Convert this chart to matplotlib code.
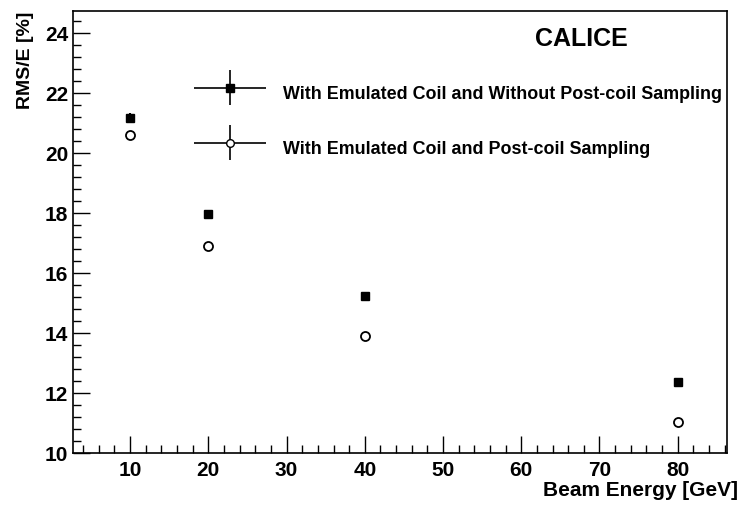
import numpy as np
import matplotlib.pyplot as plt
from matplotlib.legend_handler import HandlerErrorbar
from matplotlib.ticker import MultipleLocator

plt.rcParams['font.family'] = ['Liberation Sans', 'DejaVu Sans']
plt.rcParams['font.weight'] = 'bold'

# beam energies and resolution values
energy = [10, 20, 40, 80]
rms_no_post = [21.17, 17.97, 15.22, 12.38]
err_no_post = [0.15, 0.05, 0.05, 0.13]
rms_post = [20.58, 16.90, 13.88, 11.03]
err_post = [0.12, 0.05, 0.04, 0.05]

label_no_post = 'With Emulated Coil and Without Post-coil Sampling'
label_post = 'With Emulated Coil and Post-coil Sampling'

fig = plt.figure(figsize=(7.41, 5.06), dpi=100)
ax = fig.add_axes([73/741, 52/506, 654/741, 442/506])

ax.errorbar(energy, rms_no_post, yerr=err_no_post, fmt='s', color='black',
            ms=6, elinewidth=1.5, capsize=0)
ax.errorbar(energy, rms_post, yerr=err_post, fmt='o', color='black',
            mfc='white', mew=1.3, ms=6.5, elinewidth=1.5, capsize=0)

# legend proxies (ROOT style with x and y bars)
h1 = ax.errorbar([np.nan], [np.nan], xerr=1, yerr=1, fmt='s', color='black',
                 ms=6, elinewidth=1.2)
h2 = ax.errorbar([np.nan], [np.nan], xerr=1, yerr=1, fmt='o', color='black',
                 mfc='white', mew=1.0, ms=5.5, elinewidth=1.2)

fs_leg = 12.9
leg = ax.legend([h1, h2], [label_no_post, label_post], frameon=False,
                loc='upper left', bbox_to_anchor=(187/741, 1 - 72/506),
                bbox_transform=fig.transFigure, fontsize=fs_leg,
                handlelength=4.02, handleheight=2.0, handletextpad=0.95,
                labelspacing=1.52, borderaxespad=0,
                handler_map={h1: HandlerErrorbar(xerr_size=2.0, yerr_size=0.98, numpoints=1),
                             h2: HandlerErrorbar(xerr_size=2.0, yerr_size=0.98, numpoints=1)})

ax.text(0.778, 0.940, 'CALICE', transform=ax.transAxes, fontsize=18,
        fontweight='bold', ha='center', va='center')

ax.set_xlim(2.7, 86.3)
ax.set_ylim(10, 24.72)
ax.xaxis.set_major_locator(MultipleLocator(10))
ax.xaxis.set_minor_locator(MultipleLocator(2))
ax.yaxis.set_major_locator(MultipleLocator(2))
ax.yaxis.set_minor_locator(MultipleLocator(0.4))
ax.tick_params(which='both', direction='in', top=False, right=False,
               labelsize=15, width=1)
ax.tick_params(axis='x', pad=5)
ax.tick_params(which='major', length=12)
ax.tick_params(which='minor', length=6)
for lab in ax.get_xticklabels() + ax.get_yticklabels():
    lab.set_fontweight('bold')
for s in ax.spines.values():
    s.set_linewidth(1.2)

ax.set_xlabel('Beam Energy [GeV]', fontsize=15, fontweight='bold', loc='right', labelpad=0)
ax.xaxis.set_label_coords((738 - 73)/654, -(481 - 454)/442)
ax.xaxis.label.set_va('top')
ax.set_ylabel('RMS/E [%]', fontsize=14, fontweight='bold', loc='top', labelpad=8)
ax.yaxis.set_label_coords(-(73 - 26)/654, 1.0)
ax.yaxis.label.set_va('center')
ax.yaxis.label.set_ha('right')

fig.savefig('out.png', dpi=100)
